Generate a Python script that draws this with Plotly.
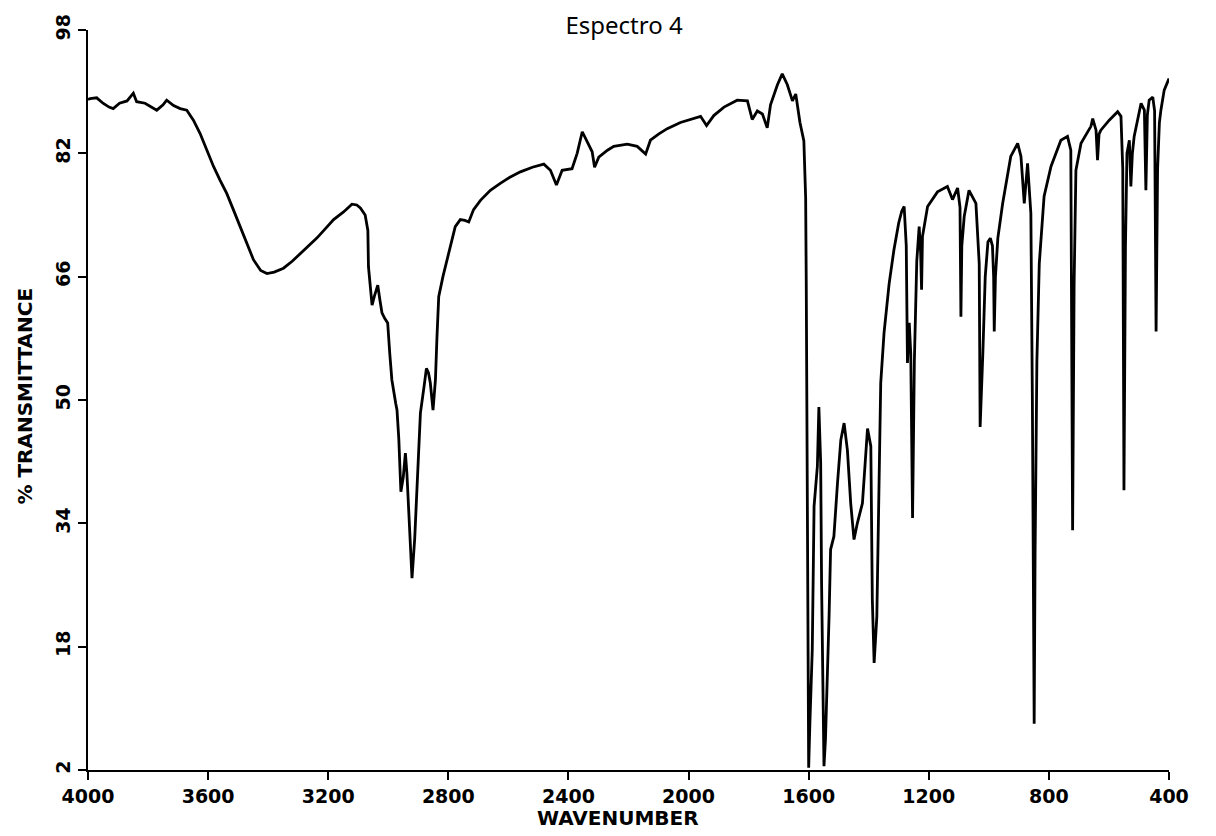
import plotly.graph_objects as go

# Wavenumber (cm-1) and % transmittance
wavenumber = [
    4000, 3993, 3971, 3950, 3930, 3916, 3895, 3870, 3849, 3838, 3810, 3790, 3771, 3750, 3738, 3715,
    3693, 3671, 3649, 3627, 3605, 3582, 3560, 3538, 3515, 3493, 3470, 3449, 3425, 3404, 3380, 3349,
    3320, 3293, 3265, 3238, 3210, 3182, 3149, 3121, 3105, 3093, 3077, 3068, 3066, 3060, 3054, 3046,
    3035, 3028, 3021, 3012, 3002, 2995, 2988, 2975, 2971, 2965, 2958, 2950, 2943, 2938, 2930, 2921,
    2912, 2904, 2893, 2880, 2873, 2866, 2860, 2851, 2843, 2838, 2832, 2818, 2804, 2790, 2777, 2760,
    2745, 2732, 2716, 2693, 2660, 2627, 2595, 2560, 2520, 2482, 2460, 2440, 2421, 2388, 2371, 2354,
    2338, 2321, 2313, 2299, 2270, 2249, 2204, 2171, 2143, 2127, 2100, 2071, 2027, 1990, 1960, 1940,
    1916, 1882, 1838, 1804, 1788, 1771, 1754, 1738, 1727, 1704, 1688, 1671, 1654, 1643, 1629, 1616,
    1610, 1608, 1606, 1604, 1602, 1600, 1596, 1592, 1588, 1582, 1576, 1571, 1566, 1560, 1557, 1553,
    1549, 1544, 1538, 1532, 1527, 1516, 1504, 1493, 1482, 1471, 1460, 1449, 1438, 1421, 1404, 1393,
    1388, 1382, 1373, 1366, 1360, 1349, 1332, 1316, 1300, 1290, 1282, 1275, 1271, 1265, 1260, 1254,
    1248, 1240, 1232, 1227, 1224, 1221, 1204, 1171, 1138, 1121, 1104, 1096, 1093, 1090, 1082, 1066,
    1043, 1032, 1029, 1020, 1012, 1003, 995, 988, 984, 982, 978, 970, 960, 954, 927, 904,
    893, 882, 871, 860, 855, 852, 849, 846, 840, 832, 816, 793, 760, 738, 727, 721,
    716, 710, 693, 660, 654, 643, 638, 633, 627, 599, 571, 560, 554, 550, 545, 540,
    532, 527, 522, 516, 493, 482, 477, 472, 466, 454, 448, 443, 438, 432, 427, 416,
    400,
]
transmittance = [
    89.0, 89.1, 89.2, 88.5, 88.0, 87.8, 88.5, 88.8, 89.8, 88.7, 88.5, 88.0, 87.6, 88.3, 88.9, 88.2,
    87.8, 87.6, 86.3, 84.6, 82.5, 80.3, 78.5, 76.8, 74.6, 72.5, 70.2, 68.2, 66.8, 66.4, 66.6, 67.1,
    68.0, 69.0, 70.0, 71.0, 72.2, 73.4, 74.4, 75.4, 75.3, 74.9, 74.0, 72.0, 67.3, 64.5, 62.3, 63.5,
    64.9, 63.0, 61.3, 60.6, 60.0, 56.0, 52.6, 49.5, 48.7, 45.0, 38.1, 40.0, 43.1, 40.5, 34.0, 26.9,
    32.0, 39.6, 48.3, 52.0, 54.1, 53.5, 52.2, 48.7, 52.6, 58.0, 63.4, 66.0, 68.2, 70.5, 72.5, 73.4,
    73.3, 73.1, 74.7, 75.9, 77.2, 78.1, 78.9, 79.6, 80.2, 80.6, 79.8, 77.9, 79.8, 80.0, 82.0, 84.8,
    83.5, 82.2, 80.2, 81.5, 82.4, 82.9, 83.2, 82.9, 81.9, 83.7, 84.5, 85.2, 86.0, 86.4, 86.8, 85.6,
    86.9, 88.0, 88.9, 88.8, 86.4, 87.5, 87.1, 85.3, 88.3, 90.9, 92.3, 90.9, 88.8, 89.7, 86.0, 83.6,
    76.2, 65.0, 45.0, 25.0, 10.0, 2.3, 8.0, 12.0, 17.6, 36.2, 39.5, 41.4, 49.1, 41.8, 26.2, 10.0,
    2.5, 6.0, 13.3, 22.0, 30.6, 32.3, 39.2, 44.8, 47.0, 43.5, 36.6, 31.9, 34.0, 36.6, 46.3, 44.0,
    24.1, 15.9, 21.9, 41.4, 52.2, 58.7, 65.1, 69.5, 73.0, 74.5, 75.1, 70.0, 54.8, 60.0, 56.0, 34.7,
    55.0, 68.0, 72.5, 69.0, 64.3, 71.2, 75.1, 77.0, 77.7, 76.0, 77.5, 75.0, 60.8, 70.0, 73.8, 77.2,
    75.5, 67.7, 46.5, 56.0, 66.0, 70.5, 71.0, 70.0, 66.0, 58.9, 66.0, 71.0, 74.0, 75.5, 81.6, 83.3,
    81.6, 75.5, 80.7, 74.2, 50.0, 25.0, 8.0, 30.0, 55.0, 67.7, 76.4, 80.3, 83.7, 84.2, 82.4, 33.1,
    65.0, 79.8, 83.3, 85.5, 86.5, 85.0, 81.1, 84.5, 85.0, 86.3, 87.4, 86.8, 80.0, 38.3, 70.0, 82.0,
    83.7, 77.7, 82.0, 84.2, 88.5, 87.6, 77.2, 87.0, 88.9, 89.3, 87.5, 58.9, 80.0, 86.0, 87.6, 90.2,
    91.7,
]

x_ticks = [4000, 3600, 3200, 2800, 2400, 2000, 1600, 1200, 800, 400]
y_ticks = [2, 18, 34, 50, 66, 82, 98]

fig = go.Figure()
fig.add_trace(go.Scatter(
    x=wavenumber, y=transmittance, mode="lines",
    line=dict(color="black", width=2.8), showlegend=False,
))

tick_font = dict(family="DejaVu Sans", size=19, color="black", weight="bold")
label_font = dict(family="DejaVu Sans", size=20, color="black", weight="bold")

# page has an 8px body margin, so the figure is sized to fit inside the window
fig.update_layout(
    width=1208, height=828, autosize=False,
    margin=dict(l=80, r=47, t=22, b=66),
    paper_bgcolor="white", plot_bgcolor="white",
    title=dict(text="Espectro 4", x=0.51, xanchor="center", y=0.979, yanchor="middle",
               yref="container", font=dict(family="Noto Sans", size=24, color="black")),
    xaxis=dict(
        range=[4000, 400], tickvals=x_ticks, ticktext=[str(v) for v in x_ticks],
        showgrid=False, zeroline=False, showline=True, linecolor="black", linewidth=2,
        ticks="outside", ticklen=8, tickwidth=2, tickcolor="black", tickfont=tick_font,
        automargin=False,
    ),
    yaxis=dict(
        range=[2, 98], tickvals=y_ticks, ticktext=[str(v) for v in y_ticks],
        showgrid=False, zeroline=False, showline=True, linecolor="black", linewidth=2,
        ticks="outside", ticklen=8, tickwidth=2, tickcolor="black", tickfont=tick_font,
        tickangle=-90, automargin=False,
    ),
    annotations=[
        dict(text="WAVENUMBER", xref="paper", yref="paper", x=0.49, y=-0.065,
             xanchor="center", yanchor="middle", showarrow=False, font=label_font),
        dict(text="% TRANSMITTANCE", xref="paper", yref="paper", x=-0.058, y=0.505,
             xanchor="center", yanchor="middle", textangle=-90, showarrow=False,
             font=label_font),
    ],
)

fig.write_html("out.html")
